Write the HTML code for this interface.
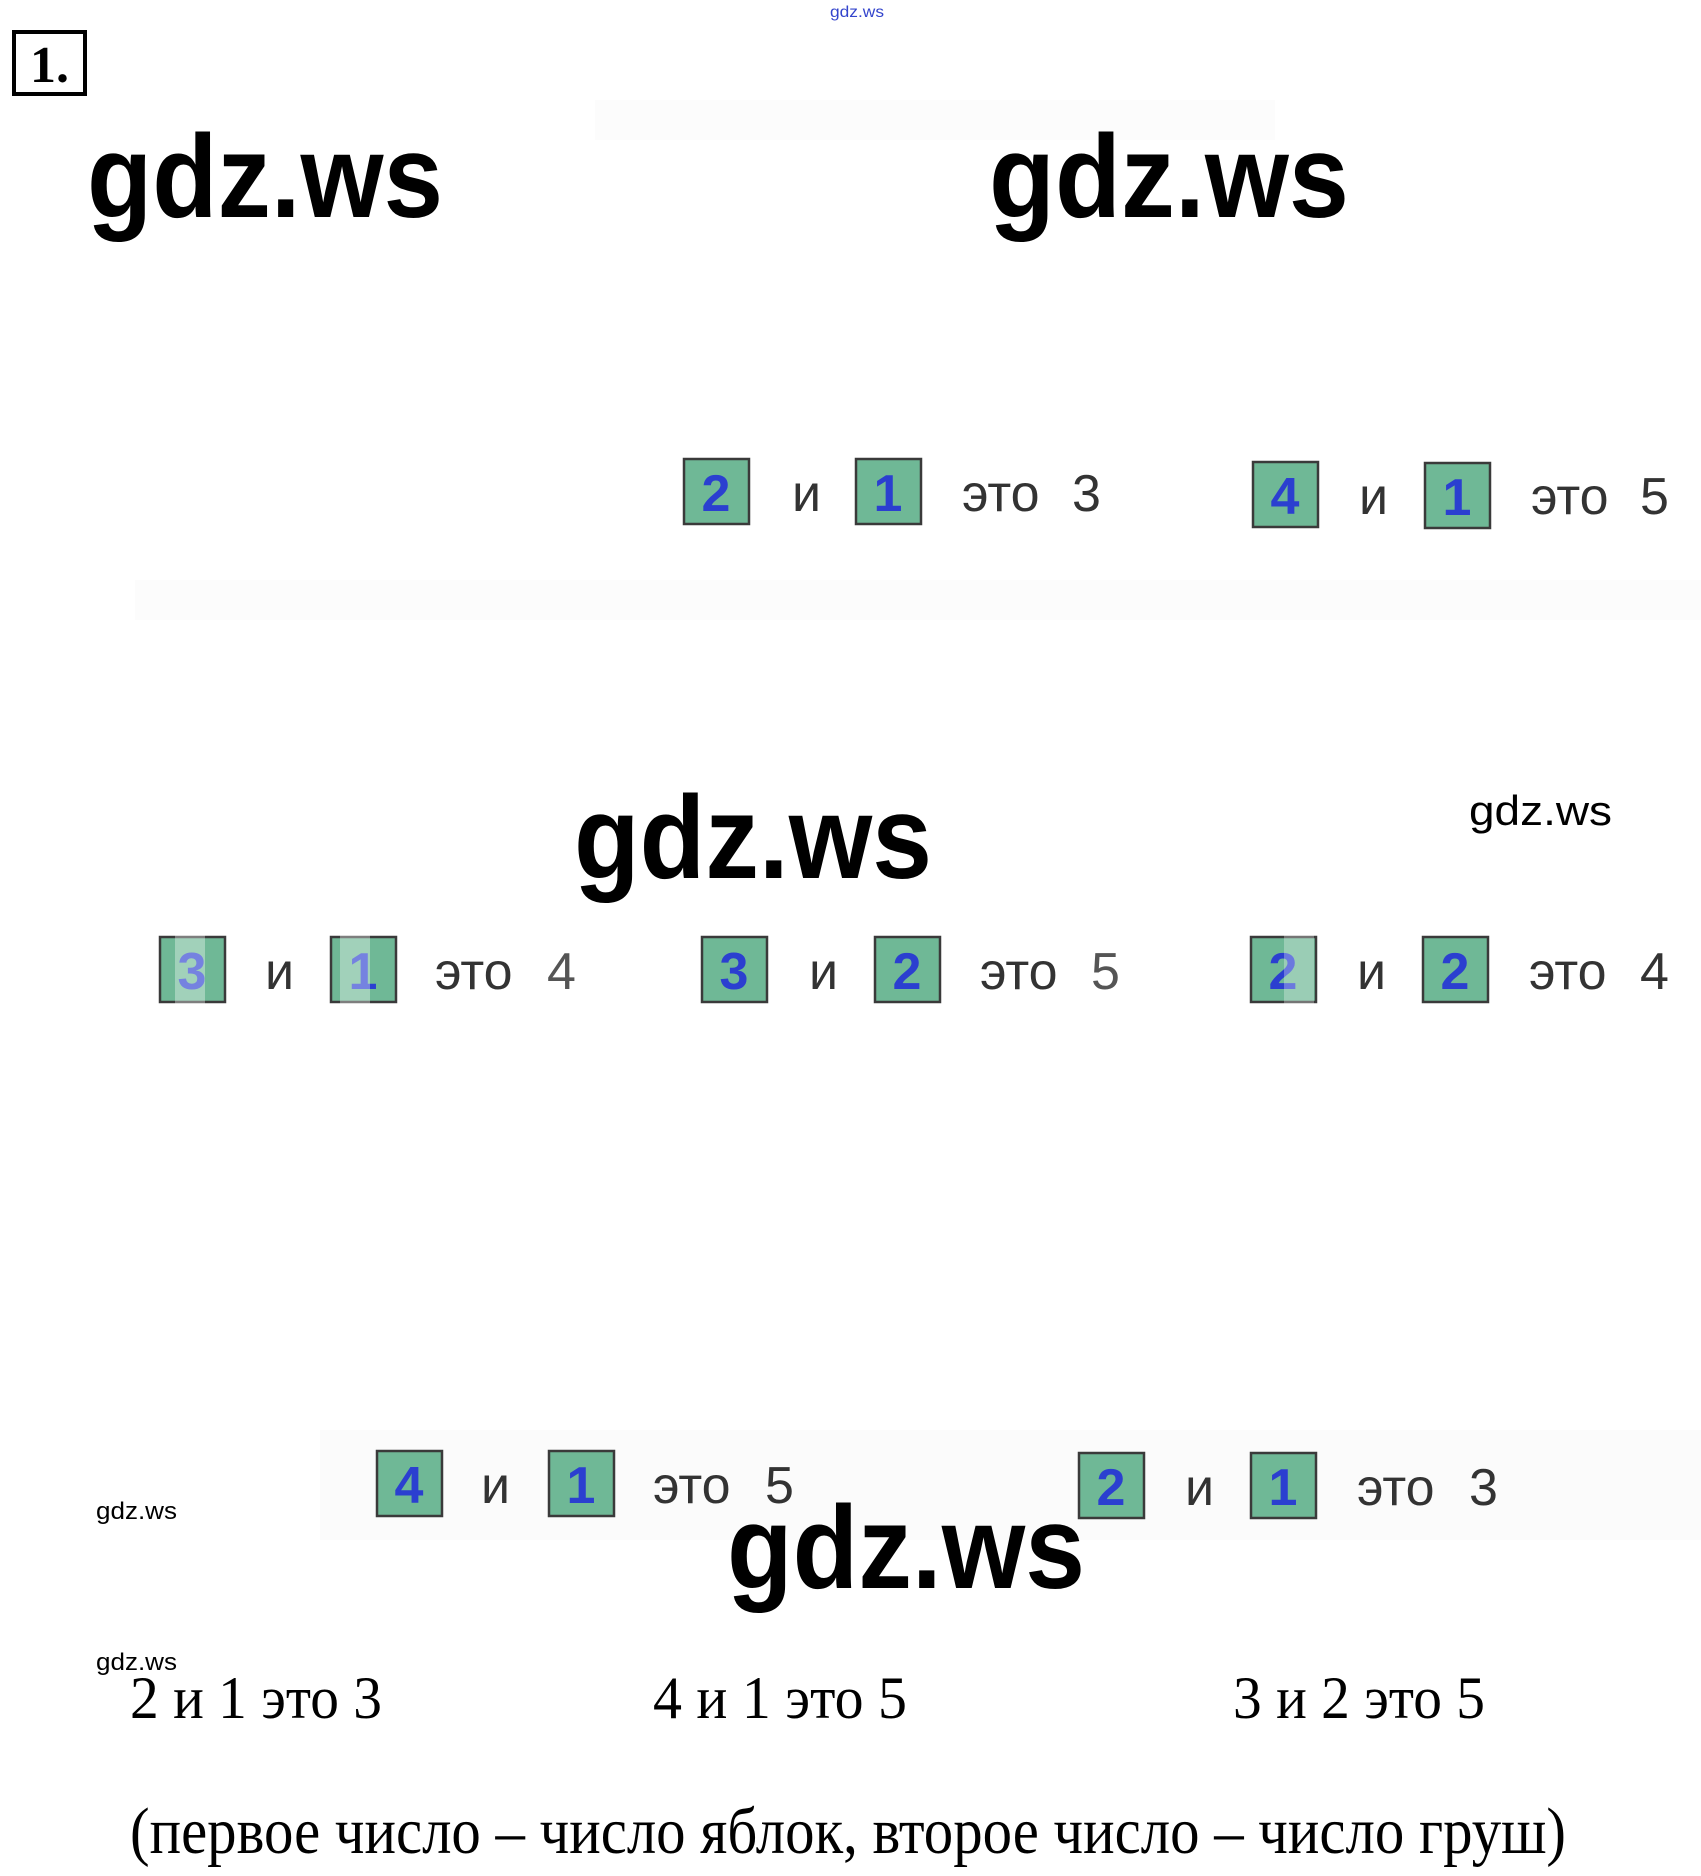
<!DOCTYPE html>
<html><head><meta charset="utf-8"><style>html,body{margin:0;padding:0;background:#fff}svg{display:block}</style></head>
<body>
<svg width="1701" height="1876" viewBox="0 0 1701 1876" xmlns="http://www.w3.org/2000/svg">
<rect width="1701" height="1876" fill="#fff"/>
<rect x="595" y="100" width="680" height="40" fill="#fcfcfc"/>
<rect x="135" y="580" width="1566" height="40" fill="#fcfcfc"/>
<rect x="320" y="1430" width="1381" height="110" fill="#fbfbfb"/>
<text x="830" y="17" font-family="Liberation Sans, sans-serif" font-size="16" fill="#3344cc" textLength="54" lengthAdjust="spacingAndGlyphs">gdz.ws</text>
<rect x="14" y="32" width="71" height="62" fill="none" stroke="#000" stroke-width="4"/>
<text x="30" y="82" font-family="Liberation Serif, serif" font-weight="bold" font-size="52">1.</text>
<g font-family="Liberation Sans, sans-serif" font-weight="bold" fill="#000">
<text x="87" y="217" font-size="118" textLength="356" lengthAdjust="spacingAndGlyphs">gdz.ws</text>
<text x="989" y="217" font-size="118" textLength="360" lengthAdjust="spacingAndGlyphs">gdz.ws</text>
<text x="574" y="878" font-size="118" textLength="358" lengthAdjust="spacingAndGlyphs">gdz.ws</text>
<text x="727" y="1588" font-size="118" textLength="358" lengthAdjust="spacingAndGlyphs">gdz.ws</text>
<text x="1469" y="825" font-size="42" font-weight="normal" textLength="143" lengthAdjust="spacingAndGlyphs">gdz.ws</text>
<text x="96" y="1519" font-size="24" font-weight="normal" textLength="81" lengthAdjust="spacingAndGlyphs">gdz.ws</text>
<text x="96" y="1670" font-size="24" font-weight="normal" textLength="81" lengthAdjust="spacingAndGlyphs">gdz.ws</text>
</g>
<defs>
<g id="b"><rect x="0" y="0" width="65" height="65" fill="#6fb896" stroke="#3a3a3a" stroke-width="2.5"/></g>
</defs>
<g font-family="Liberation Sans, sans-serif" font-size="52">
<use href="#b" x="684" y="459"/><text x="716" y="511" text-anchor="middle" font-weight="bold" fill="#2b3fd0">2</text>
<text x="792" y="511" fill="#333">и</text>
<use href="#b" x="856" y="459"/><text x="888" y="511" text-anchor="middle" font-weight="bold" fill="#2b3fd0">1</text>
<text x="962" y="511" fill="#333">это</text><text x="1072" y="511" fill="#333">3</text>
<use href="#b" x="1253" y="462"/><text x="1285" y="514" text-anchor="middle" font-weight="bold" fill="#2b3fd0">4</text>
<text x="1359" y="514" fill="#333">и</text>
<use href="#b" x="1425" y="463"/><text x="1457" y="515" text-anchor="middle" font-weight="bold" fill="#2b3fd0">1</text>
<text x="1531" y="514" fill="#333">это</text><text x="1640" y="514" fill="#333">5</text>
<use href="#b" x="160" y="937"/><text x="192" y="989" text-anchor="middle" font-weight="bold" fill="#2b3fd0">3</text>
<text x="265" y="989" fill="#333">и</text>
<use href="#b" x="331" y="937"/><text x="363" y="989" text-anchor="middle" font-weight="bold" fill="#2b3fd0">1</text>
<text x="435" y="989" fill="#333">это</text><text x="547" y="989" fill="#555">4</text>
<use href="#b" x="702" y="937"/><text x="734" y="989" text-anchor="middle" font-weight="bold" fill="#2b3fd0">3</text>
<text x="809" y="989" fill="#333">и</text>
<use href="#b" x="875" y="937"/><text x="907" y="989" text-anchor="middle" font-weight="bold" fill="#2b3fd0">2</text>
<text x="980" y="989" fill="#333">это</text><text x="1091" y="989" fill="#555">5</text>
<use href="#b" x="1251" y="937"/><text x="1283" y="989" text-anchor="middle" font-weight="bold" fill="#2b3fd0">2</text>
<text x="1357" y="989" fill="#333">и</text>
<use href="#b" x="1423" y="937"/><text x="1455" y="989" text-anchor="middle" font-weight="bold" fill="#2b3fd0">2</text>
<text x="1529" y="989" fill="#333">это</text><text x="1640" y="989" fill="#333">4</text>
<rect x="175" y="930" width="30" height="80" fill="#fff" opacity="0.35"/>
<rect x="340" y="930" width="30" height="80" fill="#fff" opacity="0.35"/>
<rect x="1284" y="930" width="30" height="80" fill="#fff" opacity="0.3"/>
<use href="#b" x="377" y="1451"/><text x="409" y="1503" text-anchor="middle" font-weight="bold" fill="#2b3fd0">4</text>
<text x="481" y="1503" fill="#333">и</text>
<use href="#b" x="549" y="1451"/><text x="581" y="1503" text-anchor="middle" font-weight="bold" fill="#2b3fd0">1</text>
<text x="653" y="1503" fill="#333">это</text><text x="765" y="1503" fill="#333">5</text>
<use href="#b" x="1079" y="1453"/><text x="1111" y="1505" text-anchor="middle" font-weight="bold" fill="#2b3fd0">2</text>
<text x="1185" y="1505" fill="#333">и</text>
<use href="#b" x="1251" y="1453"/><text x="1283" y="1505" text-anchor="middle" font-weight="bold" fill="#2b3fd0">1</text>
<text x="1357" y="1505" fill="#333">это</text><text x="1469" y="1505" fill="#333">3</text>
</g>
<g font-family="Liberation Serif, serif" fill="#000">
<text x="130" y="1718" font-size="60" textLength="252" lengthAdjust="spacingAndGlyphs">2 и 1 это 3</text>
<text x="653" y="1718" font-size="60" textLength="254" lengthAdjust="spacingAndGlyphs">4 и 1 это 5</text>
<text x="1233" y="1718" font-size="60" textLength="252" lengthAdjust="spacingAndGlyphs">3 и 2 это 5</text>
<text x="130" y="1853" font-size="66" textLength="1436" lengthAdjust="spacingAndGlyphs">(первое число – число яблок, второе число – число груш)</text>
</g>
</svg>
</body></html>
